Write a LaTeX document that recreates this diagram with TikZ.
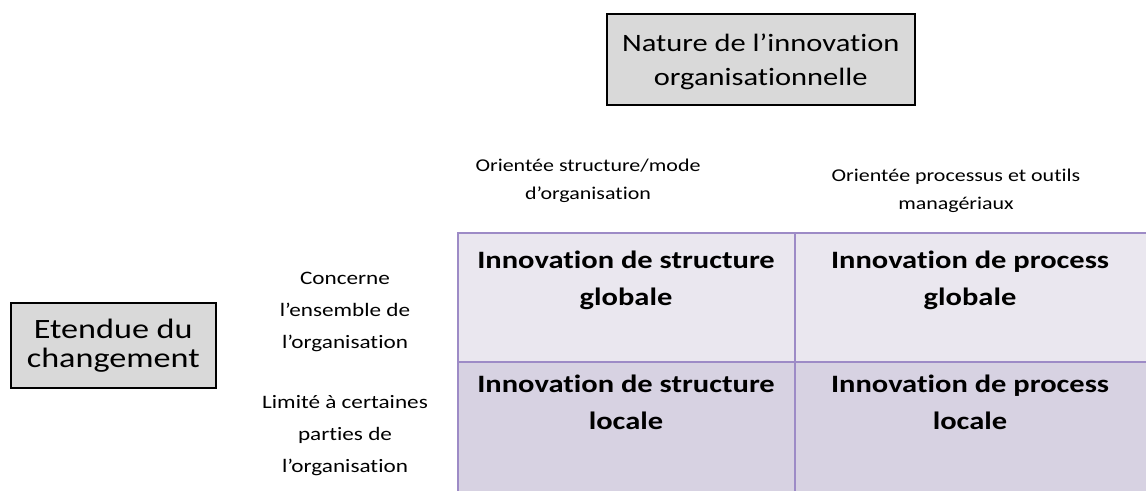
\documentclass[tikz,border=0pt]{standalone}
\usepackage{fontspec}
\setmainfont[FakeStretch=1.22, Ligatures=NoCommon]{Carlito}
\definecolor{boxgray}{HTML}{D9D9D9}
\definecolor{rowA}{HTML}{EAE7EF}
\definecolor{rowB}{HTML}{D7D2E2}
\definecolor{gridline}{HTML}{9D8BC6}
\tikzset{
  graybox/.style={draw=black, line width=1.5pt, fill=boxgray, inner sep=0pt, align=center},
  cellfill/.style={draw=gridline, line width=2pt},
  celltext/.style={align=center, font=\fontsize{25}{37}\selectfont\bfseries, inner sep=0pt},
  headtext/.style={align=center, font=\fontsize{18}{28}\selectfont, inner sep=0pt},
  sidetext/.style={align=center, font=\fontsize{19}{32}\selectfont, inner sep=0pt},
}
\begin{document}
\begin{tikzpicture}[x=1pt, y=-1pt]
\clip (0,0) rectangle (1146,490);
\fill[white] (0,0) rectangle (1146,490);

% top box
\node[graybox, minimum width=308pt, minimum height=91pt, anchor=north west] (nature) at (606,13) {};
\node[align=center, inner sep=0pt, font=\fontsize{25}{34}\selectfont] (naturetext)
  at ([yshift=-3pt]nature.center) {Nature de l’innovation\\organisationnelle};

% left box
\node[graybox, minimum width=205pt, minimum height=85pt, anchor=north west,
      font=\fontsize{28}{29}\selectfont] (etendue) at (10,302)
  {Etendue du\\changement};

% grid cells
\path[cellfill, fill=rowA] (458,233) rectangle (795,362);
\path[cellfill, fill=rowA] (795,233) rectangle (1150,362);
\path[cellfill, fill=rowB] (458,362) rectangle (795,500);
\path[cellfill, fill=rowB] (795,362) rectangle (1150,500);

% cell texts
\node[celltext] (c11) at (626,280) {Innovation de structure\\globale};
\node[celltext] (c12) at (970,280) {Innovation de process\\globale};
\node[celltext] (c21) at (626,402) {Innovation de structure\\locale};
\node[celltext] (c22) at (970,402) {Innovation de process\\locale};

% column headers
\node[headtext] (h1) at (588,181) {Orientée structure/mode\\d’organisation};
\node[headtext] (h2) at (956,191) {Orientée processus et outils\\managériaux};

% row labels
\node[sidetext] (r1) at (345,312) {Concerne\\l’ensemble de\\l’organisation};
\node[sidetext] (r2) at (345,436) {Limité à certaines\\parties de\\l’organisation};
\end{tikzpicture}
\end{document}
